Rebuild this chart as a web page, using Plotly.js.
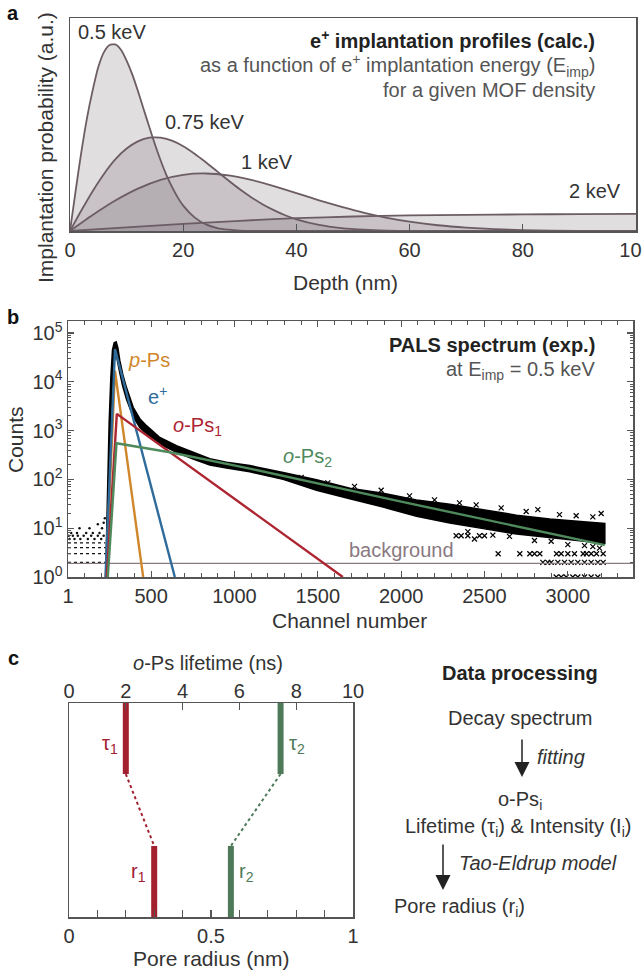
<!DOCTYPE html>
<html><head><meta charset="utf-8">
<script src="https://cdn.plot.ly/plotly-3.0.1.min.js"></script>
<style>html,body{margin:0;padding:0;background:#fff}#chart{width:642px;height:973px}</style>
</head><body><div id="chart"></div>
<script>
// ---------- Panel a: implantation profiles (depth nm, probability a.u.) ----------
const depth05 = [0,1,2,3,4,5,6,7,8,9,10,11,12,13,14,15,16,17,18,19,20,22,24,26,28,30,35,100];
const prob05  = [0,0.19,0.37,0.53,0.66,0.77,0.84,0.873,0.876,0.851,0.80,0.735,0.657,0.573,0.489,0.407,0.332,0.265,0.208,0.159,0.119,0.064,0.031,0.014,0.006,0.002,0,0];
const depth075 = [0,2,4,6,8,10,12,14,15,16,18,20,22,24,26,28,30,32,34,36,38,40,44,48,52,56,60,100];
const prob075  = [0,0.096,0.187,0.268,0.336,0.387,0.421,0.438,0.44,0.438,0.424,0.398,0.363,0.323,0.28,0.237,0.196,0.159,0.126,0.098,0.074,0.055,0.029,0.014,0.006,0.002,0,0];
const depth1 = [0,4,8,12,16,20,24,28,32,36,40,44,48,52,56,60,65,70,75,80,90,100];
const prob1  = [0,0.075,0.143,0.199,0.24,0.264,0.27,0.261,0.24,0.211,0.178,0.144,0.113,0.085,0.062,0.044,0.027,0.016,0.009,0.004,0.001,0];
const depth2 = [0,10,20,30,40,50,60,70,80,90,100];
const prob2  = [0,0.017,0.033,0.048,0.06,0.068,0.073,0.076,0.078,0.079,0.08];
const energyLabels = ['0.5 keV','0.75 keV','1 keV','2 keV'];
const depthTicks = [0,20,40,60,80,100];

// ---------- Panel b: PALS spectrum (channel, counts) ----------
const bandUpperCh  = [228,236,248,258,268,278,290,300,312,330,352,392,432,472,552,652,752,852,952,1092,1292,1492,1692,1892,2092,2292,2492,2692,2892,3092,3222];
const bandUpperCnt = [1.5,30,1500,12000,45000,63000,66000,50000,27000,14000,7600,3000,1750,1260,720,490,360,265,225,192,138,98,66,52,38,31,24,18.5,15.5,13.5,12.5];
const bandLowerCh  = [3222,3092,2892,2692,2492,2292,2092,1892,1692,1492,1292,1092,952,852,752,652,552,472,432,392,352,330,312,300,290,275,262,248,238];
const bandLowerCnt = [4.9,5.5,6.4,7.6,9.8,12.8,17.5,27,40,60,100,143,172,197,262,357,525,850,1150,1900,4400,8000,15000,26000,36000,25000,5000,200,1.5];
const fuzzCh  = [1400,1560,1720,1880,2050,2200,2350,2450,2600,2750,2820,2950,3050,3150,3200,2400,2550,2650,2800,2900,3000,3100,3150,3190];
const fuzzCnt = [110,85,72,60,46,38,33,30,26,22,24,19,18,17,20,8.5,7.2,6.8,5.6,5.4,4.6,4.4,4.2,3.9];
const tailCh  = [2330,2360,2400,2440,2470,2500,2582,2712,2772,2800,2832,2932,2960,3000,3040,3092,3112,3140,3172,3212,2850,2880,2900,2940,2980,3020,3060,3100,3140,3180,3212,2930,2960,2990,3030,3060,3100,3140,3180];
const tailCnt = [7,7,7,6,7,7,3,3,3,3,3,3,3,3,3,3,3,3,3,3,2,2,2,2,2,2,2,2,2,2,2,1,1,1,1,1,1,1,1];
const preRowCnt = [2,3,4,5];
const preRowStart = [1,1,1,1];
const preRowEnd = [228,228,226,224];
const preCh  = [10,40,75,120,160,200,5,30,60,95,140,180,215,20,55,110,150,190,70,130,205,180,215,222];
const preCnt = [6,6,6,6,6,6,7,7,7,7,7,7,7,8,8,8,8,8,10,10,10,12,13,16];
const bgCh = [1,3391]; const bgCnt = [1.9,1.9];
const pPsCh = [228,283,452];   const pPsCnt = [1,16600,1];
const ePlusCh = [226,283,642]; const ePlusCnt = [1,47000,1];
const oPs1Ch = [234,294,1650]; const oPs1Cnt = [1,2200,1];
const oPs2Ch = [240,292,612,1092,2000,3222]; const oPs2Cnt = [1,550,360,166,35,4.5];
const chanTicks = [1,500,1000,1500,2000,2500,3000];
const chanTickText = ['1','500','1000','1500','2000','2500','3000'];
const countTicks = [1,10,100,1000,10000,100000];
const countTickText = ['10<sup>0</sup>','10<sup>1</sup>','10<sup>2</sup>','10<sup>3</sup>','10<sup>4</sup>','10<sup>5</sup>'];

// ---------- Panel c: lifetimes (ns) and pore radii (nm) ----------
const tau = [2.0, 7.45];
const radius = [0.30, 0.57];
const compLabelsTau = ['τ<sub>1</sub>','τ<sub>2</sub>'];
const compLabelsR = ['r<sub>1</sub>','r<sub>2</sub>'];
const lifetimeTicks = [0,2,4,6,8,10];
const radiusTicks = [0,0.5,1];

// ---------- styling ----------
const W = 642, H = 973;
const FONT = 'Liberation Sans, Arial, Helvetica, sans-serif';
const AX = '#555';
const curveLine = '#6c5d64';
const curveFill = 'rgba(105,92,98,0.2)';
const cOrange = '#d0872c', cBlue = '#2f6b9b', cRed = '#ad2531', cGreen = '#4f8a5c', cBg = '#8a7a82';
const cRedBar = '#a3202f', cGreenBar = '#4e7a5a';
const px = (x) => x / W;
const py = (y) => 1 - y / H;
function dom(a, b, isY) { return isY ? [py(b), py(a)] : [px(a), px(b)]; }

const traces = [];
// Panel a
[[depth05,prob05],[depth075,prob075],[depth1,prob1],[depth2,prob2]].forEach(([x,y]) => {
  traces.push({x, y, xaxis:'x', yaxis:'y', type:'scatter', mode:'lines', fill:'tozeroy',
    fillcolor:curveFill, line:{color:curveLine, width:1.8, shape:'spline', smoothing:0.6}, hoverinfo:'skip'});
});
// Panel b
preRowCnt.forEach((c,i) => {
  traces.push({x:[preRowStart[i], preRowEnd[i]], y:[c,c], xaxis:'x2', yaxis:'y2', mode:'lines',
    line:{color:'#111', width:1.3, dash:'dot'}, hoverinfo:'skip'});
});
traces.push({x:preCh, y:preCnt, xaxis:'x2', yaxis:'y2', mode:'markers', marker:{color:'#111', size:2.5}, hoverinfo:'skip'});
traces.push({x:bandUpperCh.concat(bandLowerCh), y:bandUpperCnt.concat(bandLowerCnt), xaxis:'x2', yaxis:'y2',
  mode:'lines', fill:'toself', fillcolor:'#000', line:{color:'#000', width:1.5}, hoverinfo:'skip'});
traces.push({x:fuzzCh, y:fuzzCnt, xaxis:'x2', yaxis:'y2', mode:'markers',
  marker:{symbol:'x-thin', size:5, line:{color:'#000', width:1.2}}, hoverinfo:'skip'});
traces.push({x:tailCh, y:tailCnt, xaxis:'x2', yaxis:'y2', mode:'markers',
  marker:{symbol:'x-thin', size:5, line:{color:'#000', width:1.2}}, hoverinfo:'skip'});
traces.push({x:bgCh, y:bgCnt, xaxis:'x2', yaxis:'y2', mode:'lines', line:{color:cBg, width:1.3}, hoverinfo:'skip'});
[[pPsCh,pPsCnt,cOrange],[ePlusCh,ePlusCnt,cBlue],[oPs1Ch,oPs1Cnt,cRed],[oPs2Ch,oPs2Cnt,cGreen]].forEach(([x,y,c]) => {
  traces.push({x, y, xaxis:'x2', yaxis:'y2', mode:'lines', line:{color:c, width:2.4}, hoverinfo:'skip'});
});
// Panel c
const tauRange = [0,10], rRange = [0,1];
const tauBarY = [0.668, 1], rBarY = [0, 0.332];
const barColors = [cRedBar, cGreenBar];
tau.forEach((t,i) => {
  traces.push({x:[t,t], y:tauBarY, xaxis:'x4', yaxis:'y3', mode:'lines', line:{color:barColors[i], width:6}, hoverinfo:'skip'});
  traces.push({x:[radius[i],radius[i]], y:rBarY, xaxis:'x3', yaxis:'y3', mode:'lines', line:{color:barColors[i], width:6}, hoverinfo:'skip'});
  const tOnR = rRange[0] + (t - tauRange[0]) / (tauRange[1]-tauRange[0]) * (rRange[1]-rRange[0]);
  traces.push({x:[tOnR, radius[i]], y:[tauBarY[0], rBarY[1]], xaxis:'x3', yaxis:'y3', mode:'lines',
    line:{color:barColors[i], width:2, dash:'dot'}, hoverinfo:'skip'});
});

const tickFont = {family:FONT, size:20, color:'#333'};
const anns = [];
function A(text, x, y, o) {
  anns.push(Object.assign({text, x:px(x), y:py(y), xref:'paper', yref:'paper', showarrow:false,
    xanchor:'center', yanchor:'middle', font:{family:FONT, size:20, color:'#333'}}, o||{}));
}
// panel letters
A('<b>a</b>', 13, 13, {font:{family:FONT,size:20,color:'#111'}});
A('<b>b</b>', 13, 317, {font:{family:FONT,size:20,color:'#111'}});
A('<b>c</b>', 13, 658, {font:{family:FONT,size:20,color:'#111'}});
// panel a texts
A(energyLabels[0], 112, 32);
A(energyLabels[1], 205, 122);
A(energyLabels[2], 267, 162);
A(energyLabels[3], 595, 191);
A('<b>e<sup>+</sup> implantation profiles (calc.)</b>', 597, 39, {xanchor:'right', font:{family:FONT,size:20,color:'#222'}});
A('as a function of e<sup>+</sup> implantation energy (E<sub>imp</sub>)', 597, 65, {xanchor:'right', font:{family:FONT,size:20,color:'#555'}});
A('for a given MOF density', 597, 90, {xanchor:'right', font:{family:FONT,size:20,color:'#555'}});
A('Depth (nm)', 346, 283, {font:{family:FONT,size:21,color:'#333'}});
A('Implantation probability (a.u.)', 45, 148, {textangle:-90, font:{family:FONT,size:21,color:'#333'}});
// panel b texts
A('<b>PALS spectrum (exp.)</b>', 597, 345, {xanchor:'right', font:{family:FONT,size:20,color:'#222'}});
A('at E<sub>imp</sub> = 0.5 keV', 597, 370, {xanchor:'right', font:{family:FONT,size:20,color:'#555'}});
A('<i>p</i>-Ps', 149, 360, {font:{family:FONT,size:20,color:cOrange}});
A('e<sup>+</sup>', 157, 396, {font:{family:FONT,size:20,color:cBlue}});
A('<i>o</i>-Ps<sub>1</sub>', 197, 427, {font:{family:FONT,size:20,color:cRed}});
A('<i>o</i>-Ps<sub>2</sub>', 307, 458, {font:{family:FONT,size:20,color:cGreen}});
A('background', 401, 550, {font:{family:FONT,size:20,color:cBg}});
A('Counts', 15, 440, {textangle:-90, font:{family:FONT,size:21,color:'#333'}});
A('Channel number', 350, 620, {font:{family:FONT,size:21,color:'#333'}});
// panel c texts
A('<i>o</i>-Ps lifetime (ns)', 208, 663);
A('Pore radius (nm)', 211, 958, {font:{family:FONT,size:21,color:'#333'}});
tau.forEach((t,i) => {
  anns.push({text:compLabelsTau[i], x:t, y:0.804, xref:'x4', yref:'y3', showarrow:false,
    xanchor: i===0 ? 'right':'left', xshift: i===0 ? -6 : 6, font:{family:FONT,size:20,color:barColors[i]}});
  anns.push({text:compLabelsR[i], x:radius[i], y:0.21, xref:'x3', yref:'y3', showarrow:false,
    xanchor: i===0 ? 'right':'left', xshift: i===0 ? -6 : 6, font:{family:FONT,size:20,color:barColors[i]}});
});
// data processing flow
A('<b>Data processing</b>', 520, 673, {font:{family:FONT,size:20,color:'#222'}});
A('Decay spectrum', 520, 718);
A('<i>fitting</i>', 535, 757, {xanchor:'left'});
A('o-Ps<sub>i</sub>', 520, 800);
A('Lifetime (τ<sub>i</sub>) &amp; Intensity (I<sub>i</sub>)', 518, 827);
A('<i>Tao-Eldrup model</i>', 457, 863, {xanchor:'left'});
A('Pore radius (r<sub>i</sub>)', 392, 907, {xanchor:'left'});
function arrow(x, y0, y1) {
  anns.push({x:px(x), y:py(y1), xref:'paper', yref:'paper', ax:px(x), ay:py(y0), axref:'paper', ayref:'paper',
    showarrow:true, arrowhead:2, arrowsize:2, arrowwidth:1.5, arrowcolor:'#222', text:''});
}
arrow(522, 738, 777);
arrow(443, 843, 890);

const layout = {
  width:W, height:H, margin:{l:0,r:0,t:0,b:0}, paper_bgcolor:'#fff', plot_bgcolor:'rgba(0,0,0,0)',
  showlegend:false, font:{family:FONT, size:20, color:'#333'},
  xaxis:{domain:dom(70,636), anchor:'y', range:[0,100], tickvals:depthTicks, ticks:'inside', ticklen:7, tickwidth:1.2,
    tickcolor:AX, showline:true, linecolor:AX, linewidth:1.5, mirror:true, showgrid:false, zeroline:false, tickfont:tickFont,
    ticklabeloverflow:'allow', fixedrange:true},
  yaxis:{domain:dom(18,231,true), anchor:'x', range:[0,1], showticklabels:false, ticks:'', showline:true, linecolor:AX,
    linewidth:1.5, mirror:true, showgrid:false, zeroline:false, fixedrange:true},
  xaxis2:{domain:dom(68,633), anchor:'y2', range:[1,3391], tickmode:'array', tickvals:chanTicks, ticktext:chanTickText,
    ticks:'inside', ticklen:6, tickwidth:1.2, tickcolor:AX, showline:true, linecolor:AX, linewidth:1.5, mirror:'allticks',
    minor:{ticks:'inside', ticklen:4, tickwidth:1, tickcolor:AX, dtick:100, tick0:0, showgrid:false},
    showgrid:false, zeroline:false, tickfont:tickFont, ticklabeloverflow:'allow', fixedrange:true},
  yaxis2:{domain:dom(321,577,true), anchor:'x2', type:'log', range:[0,5.245], tickmode:'array', tickvals:countTicks, ticktext:countTickText,
    ticks:'inside', ticklen:6, tickwidth:1.2, tickcolor:AX, showline:true, linecolor:AX, linewidth:1.5, mirror:'allticks',
    minor:{ticks:'inside', ticklen:3, tickwidth:1, tickcolor:AX, dtick:'D1', showgrid:false},
    showgrid:false, zeroline:false, tickfont:tickFont, ticklabeloverflow:'allow', fixedrange:true},
  xaxis3:{domain:dom(69,353), anchor:'y3', range:rRange, tickmode:'array', tickvals:radiusTicks,
    ticks:'inside', ticklen:7, tickwidth:1.2, tickcolor:AX, showline:true, linecolor:AX, linewidth:1.5, mirror:true,
    minor:{ticks:'inside', ticklen:7, tickwidth:1.2, tickcolor:AX, dtick:0.1, tick0:0, showgrid:false},
    showgrid:false, zeroline:false, tickfont:tickFont, ticklabeloverflow:'allow', fixedrange:true},
  xaxis4:{domain:dom(69,353), anchor:'y3', overlaying:'x3', side:'top', range:tauRange, tickmode:'array', tickvals:lifetimeTicks,
    ticks:'inside', ticklen:7, tickwidth:1.2, tickcolor:AX, showline:false, showgrid:false, zeroline:false, tickfont:tickFont,
    ticklabeloverflow:'allow', fixedrange:true},
  yaxis3:{domain:dom(703,917,true), anchor:'x3', range:[0,1], showticklabels:false, ticks:'', showline:true, linecolor:AX,
    linewidth:1.5, mirror:true, showgrid:false, zeroline:false, fixedrange:true},
  annotations:anns
};
Plotly.newPlot('chart', traces, layout, {displayModeBar:false, staticPlot:true});
</script></body></html>
